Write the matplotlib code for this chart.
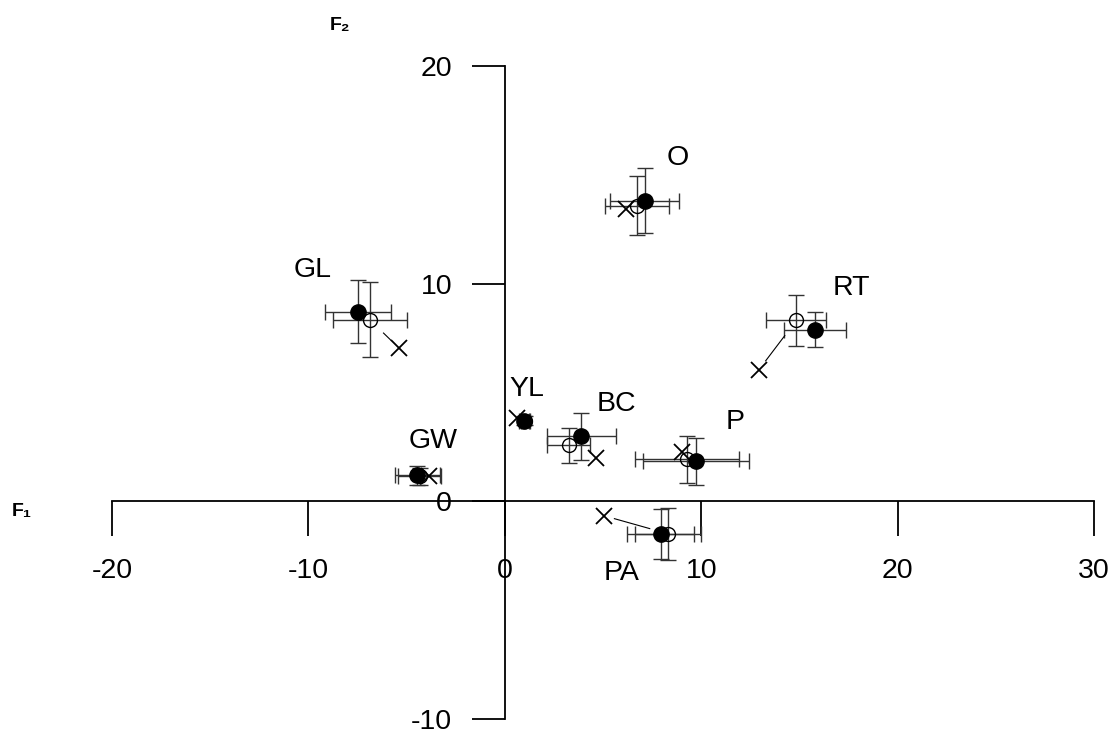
"""Ordination plot F1 x F2: site means with error bars, two groups plus crosses."""
import matplotlib
matplotlib.use("Agg")
import matplotlib.pyplot as plt
import numpy as np

SITES = ["GL", "O", "RT", "YL", "BC", "P", "GW", "PA"]
# filled circles
FILLED_X = [-7.47, 7.12, 15.78, 0.97, 3.90, 9.75, -4.46, 7.94]
FILLED_Y = [8.72, 13.82, 7.88, 3.70, 2.98, 1.83, 1.19, -1.49]
FILLED_XERR = [1.70, 1.77, 1.58, 0.25, 1.77, 2.69, 1.15, 1.70]
FILLED_YERR = [1.45, 1.48, 0.80, 0.20, 1.09, 1.06, 0.45, 1.15]
# open circles
OPEN_X = [-6.87, 6.73, 14.84, 1.05, 3.26, 9.28, -4.33, 8.31]
OPEN_Y = [8.34, 13.58, 8.31, 3.70, 2.57, 1.94, 1.15, -1.49]
OPEN_XERR = [1.90, 1.65, 1.53, 0.25, 1.10, 2.65, 1.10, 1.70]
OPEN_YERR = [1.72, 1.35, 1.17, 0.20, 0.82, 1.08, 0.40, 1.20]
# crosses
CROSS_X = [-5.39, 6.19, 12.94, 0.60, 4.63, 9.04, -3.85, 5.04]
CROSS_Y = [7.04, 13.44, 6.05, 3.83, 1.99, 2.25, 1.15, -0.66]

X_TICKS = [-20, -10, 0, 10, 20, 30]
Y_TICKS = [-10, 0, 10, 20]

# label offsets from the filled point, in pixels
LABEL_OFFSET = {"GL": (-45, 42), "O": (33, 43), "RT": (37, 42), "YL": (3, 32),
                "BC": (35, 32), "P": (39, 39), "GW": (16, 34), "PA": (-39, -39)}

plt.rcParams.update({"font.family": ["Liberation Sans", "DejaVu Sans"],
                     "axes.unicode_minus": False})

fig = plt.figure(figsize=(11.19, 7.40), dpi=100)
ax = fig.add_axes([0.1001, 0.0284, 0.8776, 0.8824])
ax.set_xlim(-20, 30)
ax.set_ylim(-10, 20)

for s in ("top", "right"):
    ax.spines[s].set_visible(False)
ax.spines["left"].set_position(("data", 0))
ax.spines["bottom"].set_position(("data", 0))
ax.spines["left"].set_linewidth(1.3)
ax.spines["bottom"].set_linewidth(1.3)
ax.set_xticks(X_TICKS)
ax.set_yticks(Y_TICKS)
ax.tick_params(axis="x", direction="out", length=25, width=1.3, pad=16, labelsize=20.5)
ax.tick_params(axis="y", direction="out", length=24, width=1.3, pad=14, labelsize=20.5)

EB = dict(fmt="none", ecolor="#333333", elinewidth=1.0, capsize=6, capthick=1.0, zorder=2)
ax.errorbar(OPEN_X, OPEN_Y, xerr=OPEN_XERR, yerr=OPEN_YERR, **EB)
ax.errorbar(FILLED_X, FILLED_Y, xerr=FILLED_XERR, yerr=FILLED_YERR, **EB)
ax.plot(OPEN_X, OPEN_Y, "o", ms=10, mfc="none", mec="black", mew=1.0, zorder=3)
ax.plot(FILLED_X, FILLED_Y, "o", ms=11, mfc="black", mec="black", zorder=4)
ax.plot(CROSS_X, CROSS_Y, "x", ms=11, mec="black", mew=1.3, zorder=4)

# thin connector from cross toward open circle, with gaps at each end
fig.canvas.draw()
tr = ax.transData
inv = tr.inverted()
for cx, cy, ox, oy in zip(CROSS_X, CROSS_Y, OPEN_X, OPEN_Y):
    p0 = tr.transform((cx, cy))
    p1 = tr.transform((ox, oy))
    d = np.hypot(*(p1 - p0))
    if d < 35:
        continue
    u = (p1 - p0) / d
    a = inv.transform(p0 + u * 11)
    b = inv.transform(p1 - u * 19)
    ax.plot([a[0], b[0]], [a[1], b[1]], color="black", lw=0.8, zorder=2)

for name, fx, fy in zip(SITES, FILLED_X, FILLED_Y):
    dx, dy = LABEL_OFFSET[name]
    ax.annotate(name, (fx, fy), xytext=(dx, dy), textcoords="offset pixels",
                ha="center", va="center", fontsize=20.5)

fig.text(12 / 1119, 1 - 516 / 740, "F\u2081", fontsize=14, fontweight="bold",
         ha="left", va="baseline")
fig.text(330 / 1119, 1 - 30 / 740, "F\u2082", fontsize=14, fontweight="bold",
         ha="left", va="baseline")

fig.savefig("out.png", dpi=100)
